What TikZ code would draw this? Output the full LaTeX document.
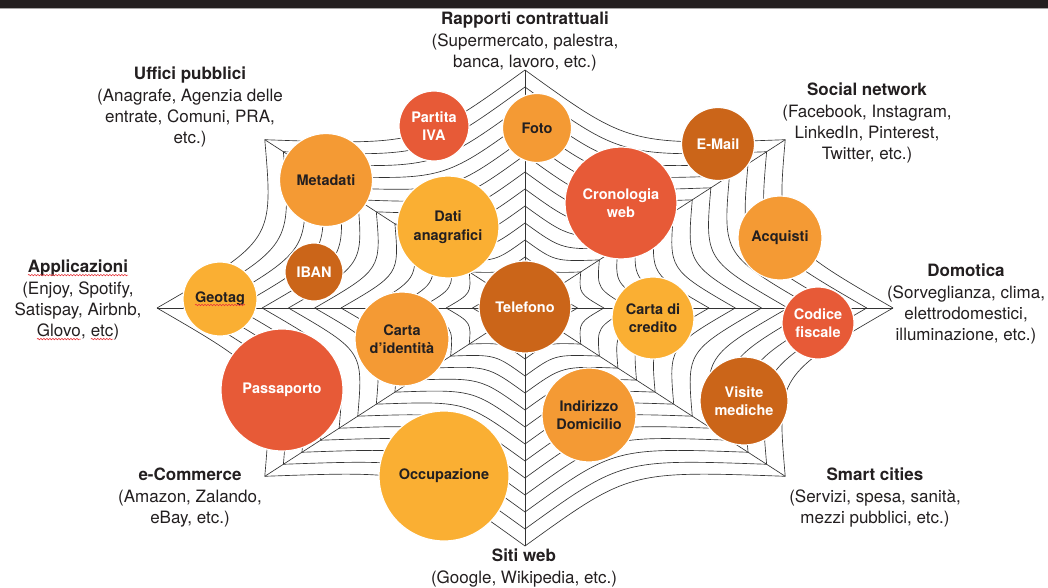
\documentclass[tikz,border=0pt]{standalone}
\usepackage{fontspec}
\setmainfont{TeX Gyre Heros}
\usetikzlibrary{decorations.pathmorphing}

\definecolor{ink}{HTML}{231F20}
\definecolor{webgray}{HTML}{333333}
\definecolor{bubred}{HTML}{E75A37}
\definecolor{bubora}{HTML}{F49A34}
\definecolor{bubyel}{HTML}{FAAF33}
\definecolor{bubdark}{HTML}{CB6519}
\definecolor{squigred}{HTML}{E8343A}

% red wavy line under a word
\newcommand{\squig}[1]{\tikz[baseline=(sq.base)]{\node[shape=rectangle, draw=none, fill=none,
      minimum size=0pt, inner sep=0pt, outer sep=0pt] (sq) {#1};
    \draw[squigred,line width=0.6pt,decorate,decoration={snake,amplitude=0.7pt,segment length=3pt}]
      ([yshift=-2.2pt]sq.base west) -- ([yshift=-2.2pt]sq.base east);}}

\begin{document}
\begin{tikzpicture}[x=1pt,y=-1pt,
    thread/.style={draw=webgray, line width=0.65pt},
    bubble/.style={circle, draw=white, line width=1.2pt, inner sep=0pt, align=center,
      font=\fontsize{14.5}{18.5}\selectfont\bfseries},
    red bub/.style={bubble, fill=bubred, text=white},
    dark bub/.style={bubble, fill=bubdark, text=white},
    orange bub/.style={bubble, fill=bubora, text=ink},
    yellow bub/.style={bubble, fill=bubyel, text=ink},
    label node/.style={align=center, inner sep=0pt, anchor=north, text=ink,
      font=\fontsize{17}{21}\selectfont}]

  \useasboundingbox[fill=white] (0,0) rectangle (1048,588);
  \fill[ink] (0,0) rectangle (1048,8);
  \draw[gray!70, line width=0.8pt] (0,8.4) -- (1048,8.4);

  % the web
  \begin{scope}[shift={(525,308)}, x=368pt, y=238pt]
    \coordinate (hub) at (0,0);
    \foreach \a [count=\i] in {0,45,...,315}
      \coordinate (tip\i) at (\a:1);
    \foreach \i in {1,...,8}
      \draw[thread] (hub) -- (tip\i);
    \foreach \k in {1,...,14}{
      \pgfmathsetmacro{\r}{\k/14}
      \pgfmathsetmacro{\rc}{0.74*\k/14}
      \foreach \a [evaluate=\a as \b using \a+22.5, evaluate=\a as \c using \a+45] in {0,45,...,315}
        \draw[thread] (\a:\r) .. controls (\b:\rc) .. (\c:\r);
    }
  \end{scope}

  % bubbles
  \node[red bub, minimum size=70pt] (partita) at (434,126) {Partita\\IVA};
  \node[orange bub, minimum size=69pt] (foto) at (537,128) {Foto};
  \node[dark bub, minimum size=73pt] (email) at (718,144) {E-Mail};
  \node[red bub, minimum size=112pt] (crono) at (621,203) {Cronologia\\web};
  \node[orange bub, minimum size=93pt] (metadati) at (326,180) {Metadati};
  \node[yellow bub, minimum size=102pt] (dati) at (448,227) {Dati\\anagrafici};
  \node[dark bub, minimum size=58pt] (iban) at (314,272) {IBAN};
  \node[yellow bub, minimum size=74pt] (geotag) at (220,299) {\squig{Geotag}};
  \node[orange bub, minimum size=94pt] (cartaid) at (402,339) {Carta\\d’identità};
  \node[dark bub, minimum size=92pt] (telefono) at (525,307) {Telefono};
  \node[yellow bub, minimum size=82pt] (cartacr) at (653,318) {Carta di\\credito};
  \node[orange bub, minimum size=84pt] (acquisti) at (780,238) {Acquisti};
  \node[red bub, minimum size=72pt] (codice) at (818,323) {Codice\\fiscale};
  \node[dark bub, minimum size=88pt] (visite) at (744,401) {Visite\\mediche};
  \node[orange bub, minimum size=94pt] (indirizzo) at (589,415) {Indirizzo\\Domicilio};
  \node[red bub, minimum size=122pt] (passaporto) at (282,390) {Passaporto};
  \node[yellow bub, minimum size=130pt] (occupazione) at (444,476) {Occupazione};

  % labels at the tips
  \node[label node] (rapporti) at (525,12)
    {{\bfseries Rapporti contrattuali}\\[1pt](Supermercato, palestra,\\banca, lavoro, etc.)};
  \node[label node] (uffici) at (190,67)
    {{\bfseries Uffici pubblici}\\[1pt](Anagrafe, Agenzia delle\\entrate, Comuni, PRA,\\etc.)};
  \node[label node] (social) at (867,83)
    {{\bfseries Social network}\\[1pt](Facebook, Instagram,\\LinkedIn, Pinterest,\\Twitter, etc.)};
  \node[label node] (applicazioni) at (78,260)
    {{\bfseries\squig{Applicazioni}}\\[1pt](Enjoy, Spotify,\\Satispay, Airbnb,\\\squig{Glovo}, \squig{etc})};
  \node[label node] (domotica) at (966,264)
    {{\bfseries Domotica}\\[1pt](Sorveglianza, clima,\\elettrodomestici,\\illuminazione, etc.)};
  \node[label node] (ecommerce) at (190,468)
    {{\bfseries e-Commerce}\\[1pt](Amazon, Zalando,\\eBay, etc.)};
  \node[label node] (smart) at (875,468)
    {{\bfseries Smart cities}\\[1pt](Servizi, spesa, sanità,\\mezzi pubblici, etc.)};
  \node[label node] (siti) at (524,549)
    {{\bfseries Siti web}\\[1pt](Google, Wikipedia, etc.)};
\end{tikzpicture}
\end{document}
